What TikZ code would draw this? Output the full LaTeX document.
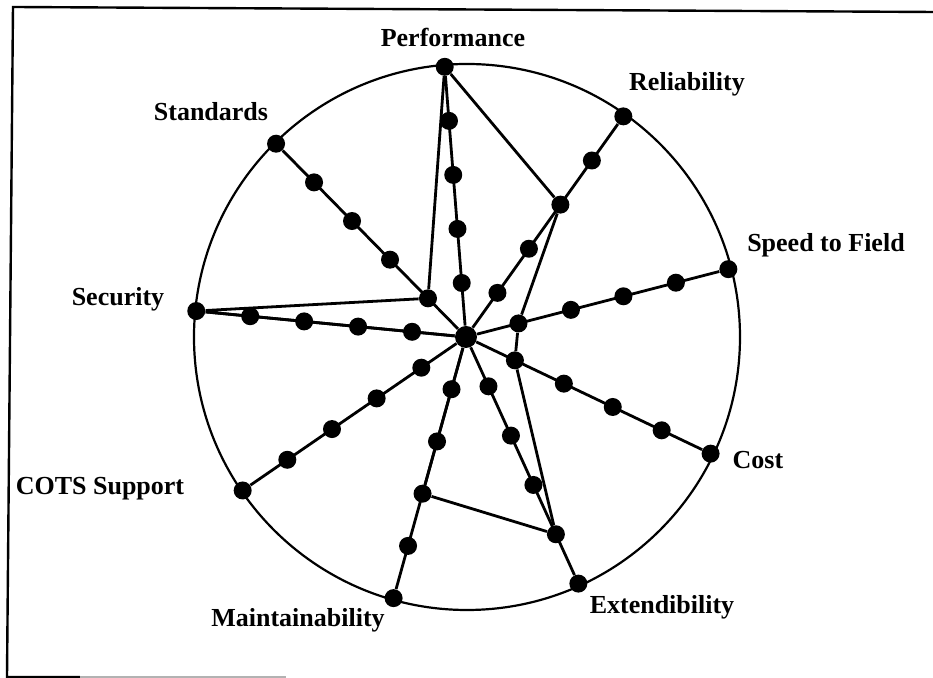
\documentclass[tikz,border=0pt]{standalone}
\usepackage{fontspec}
\setmainfont{Liberation Serif}
\usetikzlibrary{calc}
\begin{document}
\begin{tikzpicture}[x=0.5pt,y=0.5pt,
  dot/.style={circle,fill=black,inner sep=0pt,minimum size=9pt},
  hub/.style={circle,fill=black,inner sep=0pt,minimum size=11pt},
  spoke/.style={line width=1.4pt},
  rim/.style={line width=1.1pt},
  lbl/.style={font=\fontsize{13}{15}\selectfont\bfseries,inner sep=0pt},
  framed/.style={line width=1.2pt}]
\useasboundingbox (-466,337) rectangle (467,-341);
% frame (left, top and part of bottom edge)
\draw[framed] (467,325) -- (-453,330) -- (-459,-340) -- (-386,-340);
\draw[framed,gray!60] (-386,-340) -- (-180,-340);
% outer circle
\draw[rim] (1,0) circle (273);
% hub and dots
\node[hub] (c) at (0,0) {};
\foreach \i/\a in {1/94.5,2/54.5,3/14.5,4/-25.5,5/-65.5,6/-105.5,7/-145.5,8/174.5,9/134.5}{
  \foreach \k in {1,...,5}{
    \node[dot] (d\i-\k) at (\a:{\k*54.2}) {};
  }
  \draw[spoke] (c) -- (d\i-5);
}
% profile polygon
\draw[spoke] (d1-5) -- (d2-3) -- (d3-1) -- (d4-1) -- (d5-4) -- (d6-3)
  -- (c) -- (d8-5) -- (d9-1) -- (d1-5);
% labels
\node[lbl] (lperf) at (-13,300) {Performance};
\node[lbl] (lrel) at (221,253) {Reliability};
\node[lbl] (lspd) at (360,92) {Speed to Field};
\node[lbl] (lcost) at (292,-123) {Cost};
\node[lbl] (lext) at (196,-270) {Extendibility};
\node[lbl] (lmnt) at (-168,-283) {Maintainability};
\node[lbl] (lcots) at (-366,-152) {COTS Support};
\node[lbl] (lsec) at (-348,38) {Security};
\node[lbl] (lstd) at (-255,225) {Standards};
\end{tikzpicture}
\end{document}
